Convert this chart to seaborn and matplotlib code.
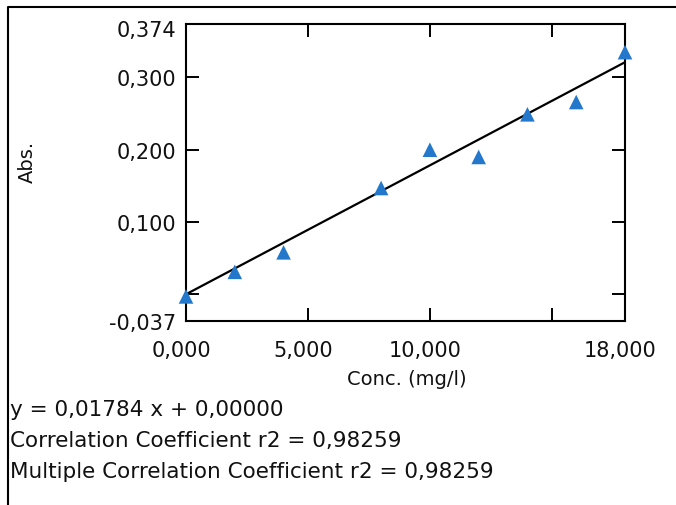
import matplotlib
matplotlib.use("Agg")
import matplotlib.pyplot as plt
from matplotlib.lines import Line2D
import matplotlib.transforms as mtransforms
import seaborn as sns
import pandas as pd
import numpy as np

# ---- data ----
conc = [0, 2, 4, 8, 10, 12, 14, 16, 18]
absorb = [-0.003, 0.031, 0.058, 0.147, 0.200, 0.190, 0.249, 0.266, 0.335]
slope = 0.01784
intercept = 0.0
x_ticks = [0, 5, 10, 15, 18]
x_labels = ["0,000", "5,000", "10,000", "", "18,000"]
y_ticks = [-0.037, 0.0, 0.1, 0.2, 0.3, 0.374]
y_labels = ["-0,037", "", "0,100", "0,200", "0,300", "0,374"]
info_lines = [
    "y = 0,01784 x + 0,00000",
    "Correlation Coefficient r2 = 0,98259",
    "Multiple Correlation Coefficient r2 = 0,98259",
]

sns.set_theme(style="white")
plt.rcParams["font.family"] = ["DejaVu Sans"]

W, H = 676, 506
fig = plt.figure(figsize=(W / 100, H / 100), dpi=100)
ax = fig.add_axes([186 / W, 1 - 322 / H, (625 - 186) / W, (322 - 25) / H])

df = pd.DataFrame({"Conc": conc, "Abs": absorb})
fit_x = [min(conc), max(conc)]
fit_df = pd.DataFrame({"Conc": fit_x, "Abs": [slope * v + intercept for v in fit_x]})

sns.lineplot(data=fit_df, x="Conc", y="Abs", color="black", linewidth=1.6, ax=ax, zorder=2)
sns.scatterplot(data=df, x="Conc", y="Abs", marker="^", s=110, color="#2378cc",
                edgecolor="none", ax=ax, zorder=3, clip_on=False)

ax.set_xlim(0, 18)
ax.set_ylim(-0.037, 0.374)
ax.set_xticks(x_ticks)
ax.set_xticklabels(x_labels)
ax.set_yticks(y_ticks)
ax.set_yticklabels(y_labels)
ax.tick_params(axis="both", direction="in", length=9.5, width=1.4, color="black",
               labelsize=15, labelcolor="#111111")
ax.tick_params(axis="x", top=True, bottom=True, pad=14)
ax.tick_params(axis="y", left=True, right=True, pad=7)

shift = mtransforms.ScaledTranslation(-5 / 100, 0, fig.dpi_scale_trans)
for lbl in ax.get_xticklabels():
    lbl.set_transform(lbl.get_transform() + shift)
yshift = mtransforms.ScaledTranslation(0, -4 / 100, fig.dpi_scale_trans)
ylbls = ax.get_yticklabels()
ylbls[-1].set_transform(ylbls[-1].get_transform() + yshift)

for s in ax.spines.values():
    s.set_visible(True)
    s.set_color("black")
    s.set_linewidth(1.5)
ax.set_xlabel("")
ax.set_ylabel("")
ax.grid(False)

fig.text(407 / W, 1 - 380 / H, "Conc. (mg/l)", ha="center", va="center", fontsize=14, color="#111111")
fig.text(27 / W, 1 - 162 / H, "Abs.", ha="center", va="center", rotation=90, fontsize=14, color="#111111")

for i, t in enumerate(info_lines):
    fig.text(10 / W, 1 - (410 + 31 * i) / H, t, ha="left", va="center", fontsize=15.5, color="#111111")

# outer frame (left and top edges visible)
fig.add_artist(Line2D([8 / W, 8 / W, 1.0], [0.0, 1 - 8 / H, 1 - 8 / H],
                      transform=fig.transFigure, color="black", linewidth=1.5))

fig.savefig("out.png", dpi=100)
